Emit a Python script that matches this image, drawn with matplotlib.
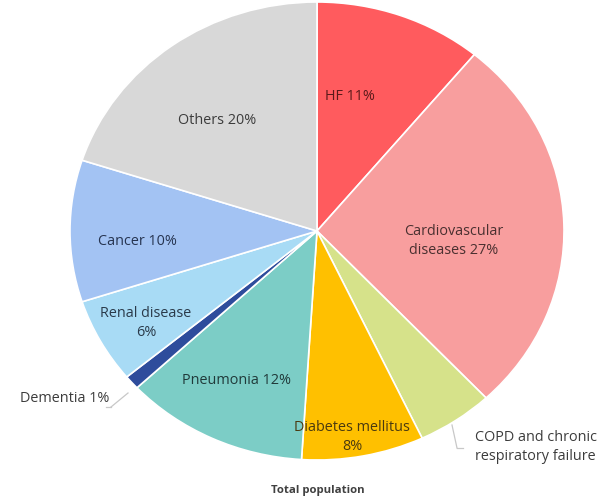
import matplotlib
matplotlib.use("Agg")
import matplotlib.pyplot as plt

categories = ["HF", "Cardiovascular\ndiseases", "COPD and chronic\nrespiratory failure",
              "Diabetes mellitus\n", "Pneumonia", "Dementia", "Renal disease\n",
              "Cancer", "Others"]
shares = [11, 27, 5, 8, 12, 1, 6, 10, 20]
colors = ["#FF5B5E", "#F89E9E", "#D6E28A", "#FFC000", "#7CCDC6",
          "#2E4C9C", "#A8DBF5", "#A3C3F3", "#D8D8D8"]
title = "Total population"

W, H = 601, 504
fig = plt.figure(figsize=(W / 100, H / 100), dpi=100)
fig.patch.set_facecolor("white")

# pie centre and radii in pixels (slightly wider than tall)
cx, cy, rx, ry = 317, 231, 247, 229
ax = fig.add_axes([(cx - rx) / W, (H - cy - ry) / H, 2 * rx / W, 2 * ry / H])
ax.pie(shares, colors=colors, startangle=90, counterclock=False,
       wedgeprops=dict(edgecolor="white", linewidth=1.2))
ax.set_aspect("auto")
ax.set_xlim(-1, 1)
ax.set_ylim(-1, 1)
ax.axis("off")

font = "Open Sans"
txt = "#3c3c3c"


def fx(px):
    return px / W


def fy(py):
    return 1 - py / H


# label anchor points (pixels) and alignment for each slice
label_pos = [(350, 97, "center"), (454, 241, "center"), (475, 447, "left"),
             (352, 437, "center"), (237, 381, "center"), (109, 399, "right"),
             (146, 323, "center"), (137, 241, "center"), (217, 120, "center")]
label_colors = ["#5a1a1a", "#4a3030", txt, "#4a3a10", "#203a3a", txt,
                "#2a3a4a", "#263450", txt]

for name, v, (px, py, ha), c in zip(categories, shares, label_pos, label_colors):
    if name.endswith("\n"):
        s = f"{name}{v}%"
    elif "COPD" in name:
        s = name
    else:
        s = f"{name} {v}%"
    fig.text(fx(px), fy(py), s, ha=ha, va="center", fontsize=10.4,
             family=font, color=c, linespacing=1.4)

# leader lines for the small slices
line_kw = dict(color="#c8c8c8", lw=0.9, transform=fig.transFigure)
fig.add_artist(plt.Line2D([fx(111), fx(128)], [fy(407), fy(393)], **line_kw))
fig.add_artist(plt.Line2D([fx(106), fx(111)], [fy(407), fy(407)], **line_kw))
fig.add_artist(plt.Line2D([fx(452), fx(457)], [fy(425), fy(448)], **line_kw))
fig.add_artist(plt.Line2D([fx(457), fx(463)], [fy(448), fy(448)], **line_kw))

fig.text(fx(318), fy(491), title, ha="center", va="center", fontsize=8.2,
         family=font, weight="bold", color="#404040")

fig.savefig("out.png", dpi=100, facecolor="white")
